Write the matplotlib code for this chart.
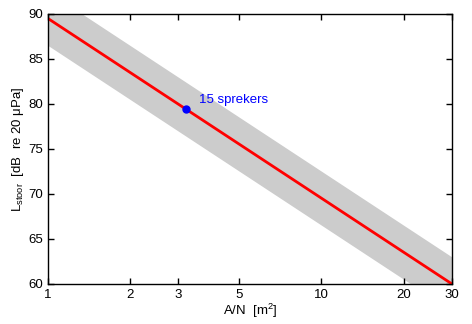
import numpy as np
import matplotlib.pyplot as plt
from matplotlib.ticker import FixedLocator, FixedFormatter, NullLocator

plt.rcParams['font.family'] = ['Liberation Sans', 'DejaVu Sans']
plt.rcParams['mathtext.fontset'] = 'custom'
plt.rcParams['mathtext.rm'] = 'Liberation Sans'
plt.rcParams['mathtext.it'] = 'Liberation Sans'

# line endpoints and band width
area_per_speaker = [1, 30]
level = [89.5, 60.0]
band = 3.0

# marked point
point_x = 3.2
point_y = 79.45
point_label = "15 sprekers"

xticks = [1, 2, 3, 5, 10, 20, 30]
yticks = [60, 65, 70, 75, 80, 85, 90]

fig = plt.figure(figsize=(4.72, 3.24), dpi=100)
ax = fig.add_axes([0.1017, 0.1235, 0.8559, 0.8333])

xs = np.array(area_per_speaker, dtype=float)
ys = np.array(level)
ax.fill_between(xs, ys - band, ys + band, color='#cccccc', linewidth=0)
ax.plot(xs, ys, color='red', linewidth=2)
ax.plot(point_x, point_y, 'o', color='blue', markersize=5)
ax.text(point_x * 1.11, point_y + 0.95, point_label, color='blue', fontsize=9.5, va='center')

ax.set_xscale('log')
ax.set_xlim(1, 30)
ax.set_ylim(60, 90)
ax.xaxis.set_major_locator(FixedLocator(xticks))
ax.xaxis.set_major_formatter(FixedFormatter([str(t) for t in xticks]))
ax.xaxis.set_minor_locator(NullLocator())
ax.set_yticks(yticks)
ax.tick_params(direction='in', top=True, right=True, labelsize=9.5, length=4, width=1)
for s in ax.spines.values():
    s.set_linewidth(1)

ax.set_xlabel('A/N  [m$^2$]', fontsize=9.5, labelpad=1)
ax.set_ylabel(r'L$_{\rm stoor}$  [dB  re 20 $\mu$Pa]', fontsize=9.5, labelpad=2)

fig.savefig('out.png', dpi=100)
